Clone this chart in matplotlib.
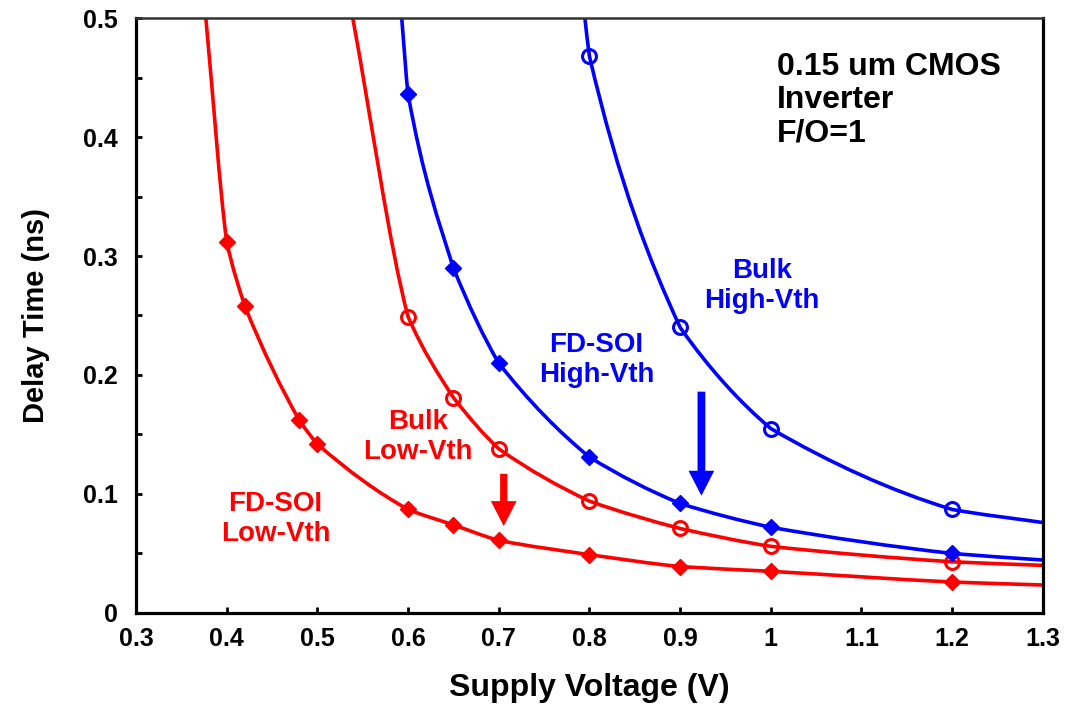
import matplotlib
matplotlib.use('Agg')
import matplotlib.pyplot as plt
from matplotlib.path import Path
from matplotlib.patches import PathPatch

plt.rcParams['font.family'] = ['Liberation Sans', 'DejaVu Sans']
plt.rcParams['font.weight'] = 'bold'

RED = '#ff0000'
BLUE = '#0000ff'

# FD-SOI Low-Vth (first point is where the curve leaves the top of the plot, no marker)
fdsoi_low_v = [0.377, 0.40, 0.42, 0.48, 0.50, 0.60, 0.65, 0.70, 0.80, 0.90, 1.00, 1.20, 1.30]
fdsoi_low_t = [0.50, 0.312, 0.258, 0.162, 0.142, 0.087, 0.074, 0.061, 0.049, 0.039, 0.035, 0.026, 0.0235]

# Bulk Low-Vth
bulk_low_v = [0.539, 0.60, 0.65, 0.70, 0.80, 0.90, 1.00, 1.20, 1.30]
bulk_low_t = [0.50, 0.249, 0.181, 0.138, 0.094, 0.071, 0.056, 0.043, 0.040]

# FD-SOI High-Vth
fdsoi_high_v = [0.593, 0.60, 0.65, 0.70, 0.80, 0.90, 1.00, 1.20, 1.30]
fdsoi_high_t = [0.50, 0.436, 0.290, 0.210, 0.131, 0.092, 0.072, 0.050, 0.0445]

# Bulk High-Vth
bulk_high_v = [0.795, 0.80, 0.90, 1.00, 1.20, 1.30]
bulk_high_t = [0.50, 0.468, 0.240, 0.155, 0.087, 0.076]

fig = plt.figure(figsize=(10.82, 7.07), dpi=100)
ax = fig.add_axes([0.1257, 0.133, 0.8381, 0.8415])


def smooth_path(v, t, alpha=0.6):
    # lightly rounded bezier through the measured points
    # (alpha=0 -> straight segments, alpha=1 -> monotone cubic)
    n = len(v)
    h = [v[i + 1] - v[i] for i in range(n - 1)]
    d = [(t[i + 1] - t[i]) / h[i] for i in range(n - 1)]
    m = [d[0]] + [0.0] * (n - 2) + [d[-1]]
    for i in range(1, n - 1):
        if d[i - 1] * d[i] > 0:
            w1 = 2 * h[i] + h[i - 1]
            w2 = h[i] + 2 * h[i - 1]
            m[i] = (w1 + w2) / (w1 / d[i - 1] + w2 / d[i])
    verts = [(v[0], t[0])]
    codes = [Path.MOVETO]
    for i in range(n - 1):
        s1 = alpha * m[i] + (1 - alpha) * d[i]
        s2 = alpha * m[i + 1] + (1 - alpha) * d[i]
        verts += [(v[i] + h[i] / 3, t[i] + s1 * h[i] / 3),
                  (v[i + 1] - h[i] / 3, t[i + 1] - s2 * h[i] / 3),
                  (v[i + 1], t[i + 1])]
        codes += [Path.CURVE4] * 3
    return Path(verts, codes)


def curve(v, t, color, marker):
    ax.add_patch(PathPatch(smooth_path(v, t), fill=False, edgecolor=color,
                           lw=2.6, capstyle='round', joinstyle='round', zorder=2))
    if marker == 'D':
        ax.plot(v[1:], t[1:], ls='none', marker='D', ms=8, markevery=slice(0, -1),
                mfc=color, mec=color, clip_on=False, zorder=3)
    else:
        ax.plot(v[1:], t[1:], ls='none', marker='o', ms=10, markevery=slice(0, -1),
                mfc='none', mec=color, mew=2.2, clip_on=False, zorder=3)


curve(fdsoi_low_v, fdsoi_low_t, RED, 'D')
curve(bulk_low_v, bulk_low_t, RED, 'o')
curve(fdsoi_high_v, fdsoi_high_t, BLUE, 'D')
curve(bulk_high_v, bulk_high_t, BLUE, 'o')

ax.set_xlim(0.3, 1.3)
ax.set_ylim(0, 0.5)
ax.set_xticks([0.3, 0.4, 0.5, 0.6, 0.7, 0.8, 0.9, 1.0, 1.1, 1.2, 1.3])
ax.set_xticklabels(['0.3', '0.4', '0.5', '0.6', '0.7', '0.8', '0.9', '1', '1.1', '1.2', '1.3'],
                   fontsize=18, weight='bold')
ax.set_yticks([0, 0.1, 0.2, 0.3, 0.4, 0.5])
ax.set_yticklabels(['0', '0.1', '0.2', '0.3', '0.4', '0.5'], fontsize=18, weight='bold')
ax.set_yticks([0.05, 0.15, 0.25, 0.35, 0.45], minor=True)
ax.tick_params(axis='both', which='both', direction='in', length=4, width=2,
               top=False, right=False)
ax.tick_params(axis='x', pad=10)
ax.tick_params(axis='y', pad=13)
for s in ax.spines.values():
    s.set_linewidth(2.3)
ax.spines['top'].set_linewidth(1.8)
ax.spines['top'].set_color('#333333')

ax.set_xlabel('Supply Voltage (V)', fontsize=23, weight='bold', labelpad=16)
ax.set_ylabel('Delay Time (ns)', fontsize=21, weight='bold', labelpad=24)

ax.text(1.007, 0.431, '0.15 um CMOS\nInverter\nF/O=1', fontsize=23, weight='bold',
        ha='left', va='center', linespacing=1.15, color='black')

ax.text(0.990, 0.275, 'Bulk\nHigh-Vth', color=BLUE, fontsize=20, weight='bold',
        ha='center', va='center', linespacing=1.2)
ax.text(0.808, 0.213, 'FD-SOI\nHigh-Vth', color=BLUE, fontsize=20, weight='bold',
        ha='center', va='center', linespacing=1.2)
ax.text(0.6106, 0.148, 'Bulk\nLow-Vth', color=RED, fontsize=20, weight='bold',
        ha='center', va='center', linespacing=1.2)
ax.text(0.454, 0.079, 'FD-SOI\nLow-Vth', color=RED, fontsize=20, weight='bold',
        ha='center', va='center', linespacing=1.2)


def arrow(x, y0, y1, color, tail):
    ax.annotate('', xy=(x, y1), xytext=(x, y0),
                arrowprops=dict(arrowstyle='simple,head_length=1.8,head_width=1.85,tail_width=%g' % tail,
                                mutation_scale=10, color=color, shrinkA=0, shrinkB=0, lw=0))


arrow(0.9235, 0.186, 0.0985, BLUE, 0.56)
arrow(0.7055, 0.117, 0.073, RED, 0.52)

fig.savefig('out.png', dpi=100)
